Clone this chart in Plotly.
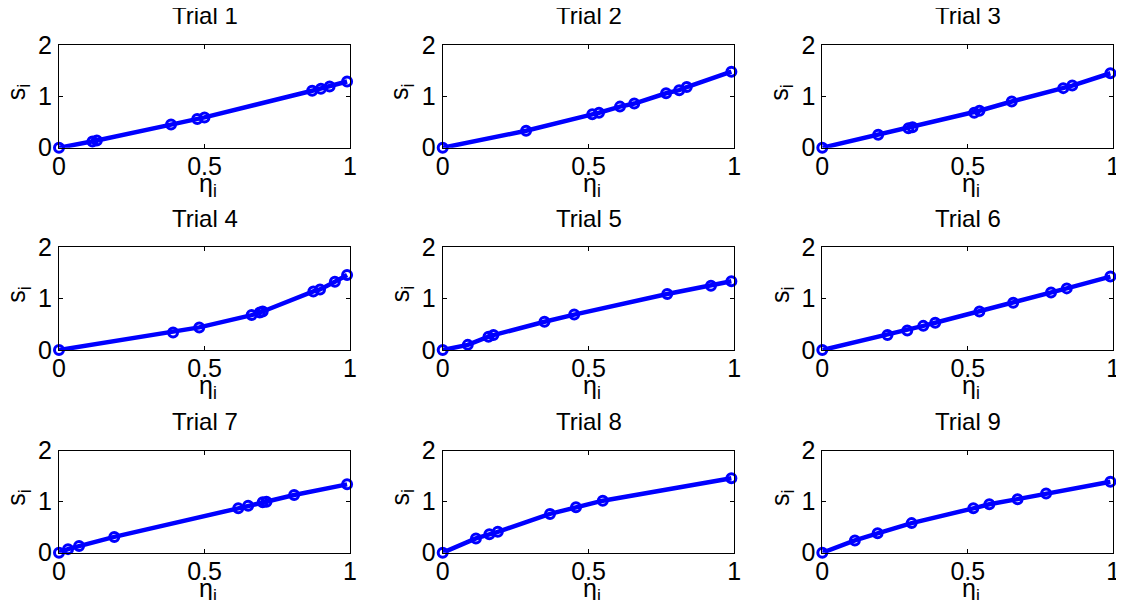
import plotly.graph_objects as go

# ---- data ----
trial_names = ["Trial 1", "Trial 2", "Trial 3", "Trial 4", "Trial 5",
               "Trial 6", "Trial 7", "Trial 8", "Trial 9"]

eta_t1 = [0, 0.115, 0.13, 0.385, 0.475, 0.50, 0.87, 0.90, 0.93, 0.99]
s_t1 = [0, 0.12, 0.14, 0.45, 0.56, 0.59, 1.11, 1.15, 1.19, 1.29]

eta_t2 = [0, 0.286, 0.513, 0.536, 0.608, 0.657, 0.766, 0.811, 0.837, 0.99]
s_t2 = [0, 0.33, 0.65, 0.68, 0.80, 0.86, 1.06, 1.12, 1.18, 1.48]

eta_t3 = [0, 0.192, 0.296, 0.31, 0.522, 0.54, 0.651, 0.828, 0.859, 0.99]
s_t3 = [0, 0.25, 0.38, 0.40, 0.68, 0.72, 0.90, 1.16, 1.21, 1.45]

eta_t4 = [0, 0.392, 0.482, 0.662, 0.69, 0.70, 0.874, 0.897, 0.948, 0.99]
s_t4 = [0, 0.34, 0.44, 0.68, 0.73, 0.75, 1.14, 1.18, 1.33, 1.46]

eta_t5 = [0, 0.086, 0.157, 0.174, 0.349, 0.451, 0.77, 0.92, 0.99]
s_t5 = [0, 0.10, 0.26, 0.29, 0.55, 0.69, 1.09, 1.25, 1.34]

eta_t6 = [0, 0.224, 0.292, 0.347, 0.388, 0.54, 0.656, 0.786, 0.84, 0.99]
s_t6 = [0, 0.29, 0.38, 0.47, 0.53, 0.75, 0.92, 1.12, 1.20, 1.43]

eta_t7 = [0, 0.031, 0.069, 0.19, 0.616, 0.65, 0.70, 0.713, 0.808, 0.99]
s_t7 = [0, 0.07, 0.13, 0.31, 0.87, 0.92, 0.99, 1.00, 1.13, 1.34]

eta_t8 = [0, 0.114, 0.16, 0.189, 0.368, 0.457, 0.549, 0.99]
s_t8 = [0, 0.28, 0.36, 0.41, 0.76, 0.89, 1.02, 1.46]

eta_t9 = [0, 0.112, 0.19, 0.307, 0.519, 0.574, 0.671, 0.769, 0.99]
s_t9 = [0, 0.24, 0.38, 0.58, 0.87, 0.95, 1.05, 1.16, 1.39]

x_tick_vals = [0, 0.5, 1]
x_tick_text = ["0", "0.5", "1"]
y_tick_vals = [0, 1, 2]
y_tick_text = ["0", "1", "2"]

etas = [eta_t1, eta_t2, eta_t3, eta_t4, eta_t5, eta_t6, eta_t7, eta_t8, eta_t9]
ss = [s_t1, s_t2, s_t3, s_t4, s_t5, s_t6, s_t7, s_t8, s_t9]

# ---- layout geometry (page pixels; page body has an 8px margin) ----
OFF = 8
W, H = 1124 - 2 * OFF, 608 - 2 * OFF
col_px = [(59, 350), (442.7, 734.3), (822.3, 1113.3)]
row_px = [(45, 147.7), (247.3, 350), (450.7, 552.7)]


def px_x(p):
    return (p - OFF) / W


def px_y(p):
    return 1 - (p - OFF) / H


FONT = "Liberation Sans, Arial, Helvetica, sans-serif"
BLUE = "rgb(0,0,255)"

fig = go.Figure()
annotations = []
layout_axes = {}

for k in range(9):
    r, c = divmod(k, 3)
    idx = k + 1
    xa = "x" if idx == 1 else f"x{idx}"
    ya = "y" if idx == 1 else f"y{idx}"
    fig.add_trace(go.Scatter(
        x=etas[k], y=ss[k], xaxis=xa, yaxis=ya,
        mode="lines+markers",
        line=dict(color=BLUE, width=4.5),
        marker=dict(symbol="circle-open", size=9, color=BLUE,
                    line=dict(color=BLUE, width=3)),
        cliponaxis=False, showlegend=False,
    ))
    x0, x1 = col_px[c]
    y0, y1 = row_px[r]
    xdom = [px_x(x0), min(px_x(x1), 1.0)]
    ydom = [px_y(y1), px_y(y0)]
    axcommon = dict(
        showline=True, linecolor="black", linewidth=1, mirror="allticks",
        ticks="inside", ticklen=4, tickcolor="black", showgrid=False,
        zeroline=False, automargin=False, ticklabeloverflow="allow",
        tickfont=dict(family=FONT, size=25, color="black"),
    )
    layout_axes["xaxis" if idx == 1 else f"xaxis{idx}"] = dict(
        domain=xdom, range=[0, 1], tickvals=x_tick_vals, ticktext=x_tick_text,
        anchor=ya, ticklabelstandoff=-4, **axcommon)
    layout_axes["yaxis" if idx == 1 else f"yaxis{idx}"] = dict(
        domain=ydom, range=[0, 2], tickvals=y_tick_vals, ticktext=y_tick_text,
        anchor=xa, ticklabelstandoff=1, **axcommon)

    xc = (x0 + x1) / 2
    # title
    annotations.append(dict(
        text=trial_names[k], xref="paper", yref="paper",
        x=px_x(xc), y=px_y(y0 - 29), xanchor="center", yanchor="middle",
        showarrow=False, font=dict(family=FONT, size=24, color="black")))
    # x label
    annotations.append(dict(
        text="η<sub>i</sub>", xref="paper", yref="paper",
        x=px_x(xc + 3), y=px_y(y1 + 37), xanchor="center", yanchor="middle",
        showarrow=False, font=dict(family=FONT, size=25, color="black")))
    # y label
    annotations.append(dict(
        text="s<sub>i</sub>", xref="paper", yref="paper",
        x=px_x(x0 - 41), y=px_y((y0 + y1) / 2 - 4), xanchor="center",
        yanchor="middle", textangle=-90,
        showarrow=False, font=dict(family=FONT, size=25, color="black")))

fig.update_layout(
    width=W, height=H, margin=dict(l=0, r=0, t=0, b=0, autoexpand=False),
    paper_bgcolor="white", plot_bgcolor="white",
    annotations=annotations, showlegend=False,
    **layout_axes,
)

fig.write_html("out.html")
